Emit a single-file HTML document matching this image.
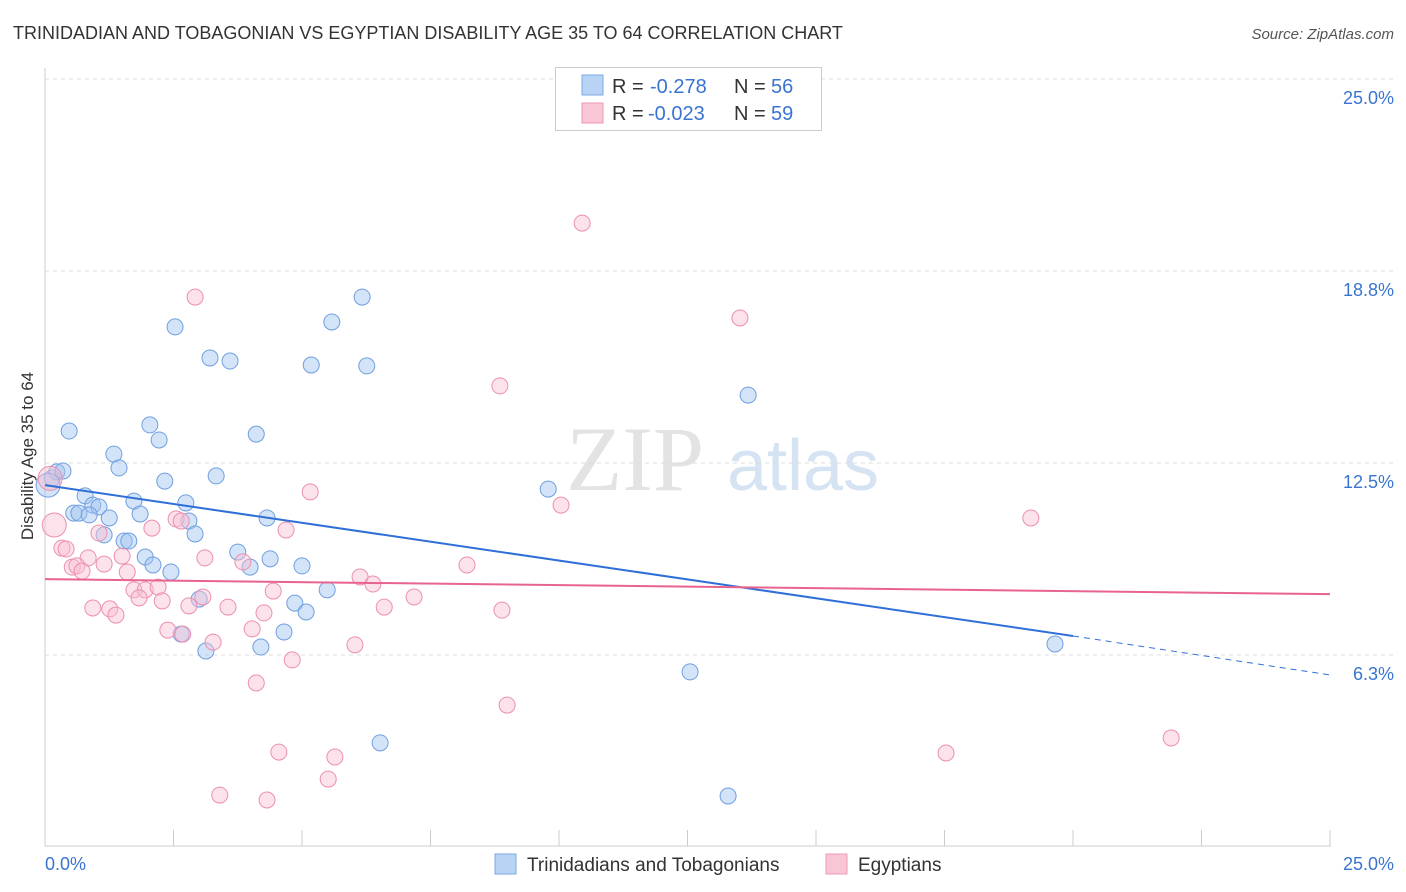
<!DOCTYPE html>
<html><head><meta charset="utf-8"><style>
body{margin:0;background:#fff;font-family:"Liberation Sans",sans-serif;}
svg{display:block}
</style></head><body>
<svg id="chart" width="1406" height="892" xmlns="http://www.w3.org/2000/svg">
<text x="13" y="39" font-size="18" fill="#333">TRINIDADIAN AND TOBAGONIAN VS EGYPTIAN DISABILITY AGE 35 TO 64 CORRELATION CHART</text>
<text x="1394" y="39" font-size="15" fill="#555" text-anchor="end" font-style="italic">Source: ZipAtlas.com</text>
<g>
<text x="635" y="490" font-size="92" fill="#e3e3e3" font-family="Liberation Serif,serif" text-anchor="middle">ZIP</text>
<text x="803" y="490" font-size="72" fill="#d5e3f3" text-anchor="middle">atlas</text>
</g>
<g id="grid"></g>
<line x1="45" y1="68" x2="45" y2="846" stroke="#ccc"/>
<line x1="45" y1="846" x2="1331" y2="846" stroke="#ccc"/>
<g id="xticks"></g>
<text transform="translate(33,456) rotate(-90)" font-size="17" fill="#333" text-anchor="middle">Disability Age 35 to 64</text>
<text x="45" y="870" font-size="18" fill="#3a74d1">0.0%</text>
<text x="1394" y="870" font-size="18" fill="#3a74d1" text-anchor="end">25.0%</text>
<g id="points"></g>
<g id="trends"></g>
<g>
<rect x="555.5" y="67.5" width="266" height="63" fill="#fff" stroke="#ccc"/>
<rect x="582" y="75" width="21" height="20" fill="#b9d3f5" stroke="#7aaae6"/>
<rect x="582" y="103" width="21" height="20" fill="#f9c6d6" stroke="#ee9ab5"/>
<text x="612" y="93" font-size="20" fill="#333">R = </text><text x="650" y="93" font-size="20" fill="#3a74d1">-0.278</text>
<text x="734" y="93" font-size="20" fill="#333">N = </text><text x="771" y="93" font-size="20" fill="#3a74d1">56</text>
<text x="612" y="120" font-size="20" fill="#333">R = </text><text x="648" y="120" font-size="20" fill="#3a74d1">-0.023</text>
<text x="734" y="120" font-size="20" fill="#333">N = </text><text x="771" y="120" font-size="20" fill="#3a74d1">59</text>
</g>
<g>
<rect x="495" y="854" width="21" height="20" fill="#b9d3f5" stroke="#7aaae6"/>
<text x="527" y="871" font-size="19" fill="#333">Trinidadians and Tobagonians</text>
<rect x="826" y="854" width="21" height="20" fill="#f9c6d6" stroke="#ee9ab5"/>
<text x="858" y="871" font-size="19" fill="#333">Egyptians</text>
</g>
</svg>
<script>
const yTicks=[25.0,18.75,12.5,6.25];
const yTickLabels=["25.0%","18.8%","12.5%","6.3%"];
const xTicks=[2.5,5,7.5,10,12.5,15,17.5,20,22.5,25];
const blueX=[0.14,0.23,0.35,0.06,0.47,1.34,1.44,2.04,2.22,2.53,3.21,3.60,4.11,5.18,5.58,6.17,6.26,13.68,9.79,0.78,0.93,1.05,0.56,0.66,0.86,1.25,1.73,1.85,2.33,2.74,2.80,3.33,4.32,1.15,1.54,1.63,1.95,2.10,2.45,2.92,3.75,3.99,4.38,5.00,5.49,3.00,4.86,5.08,4.65,2.65,3.13,4.20,12.55,19.65,6.52,13.29];
const blueY=[12.01,12.21,12.24,11.78,13.54,12.79,12.34,13.74,13.25,16.93,15.92,15.82,13.44,15.69,17.09,17.90,15.66,14.71,11.65,11.43,11.13,11.07,10.87,10.87,10.81,10.71,11.26,10.84,11.91,11.20,10.61,12.08,10.71,10.16,9.96,9.96,9.44,9.18,8.95,10.19,9.60,9.11,9.38,9.15,8.37,8.07,7.94,7.65,7.00,6.93,6.38,6.51,5.70,6.61,3.39,1.66];
const pinkX=[10.45,2.92,13.52,8.85,5.16,10.04,19.18,0.18,2.08,2.55,2.65,4.69,0.33,0.41,1.05,0.84,0.53,0.62,0.72,1.15,1.60,1.50,3.11,3.85,6.13,6.38,8.21,1.73,1.95,2.20,1.83,2.28,2.80,3.07,3.56,4.26,4.44,6.60,7.18,8.89,0.93,1.26,1.38,2.39,2.68,3.27,4.03,6.03,4.81,4.11,8.99,4.55,5.64,17.53,21.91,3.40,4.32,5.51,0.10];
const pinkY=[20.31,17.90,17.22,15.01,11.56,11.13,10.71,10.48,10.38,10.68,10.61,10.32,9.73,9.70,10.22,9.41,9.11,9.15,8.98,9.21,8.95,9.47,9.41,9.28,8.79,8.56,9.18,8.37,8.37,8.46,8.11,8.01,7.85,8.14,7.81,7.62,8.33,7.81,8.14,7.71,7.78,7.75,7.55,7.06,6.93,6.67,7.10,6.58,6.09,5.34,4.62,3.09,2.93,3.06,3.55,1.69,1.53,2.21,12.0];
const blueTrend=[11.78,6.87,5.60]; // at x=0, 20, 25
const pinkTrend=[8.72,8.23]; // at x=0, 25
const NS="http://www.w3.org/2000/svg";
const sx=v=>45+v*51.4;
const sy=v=>847-v*30.72;
function mk(t,a,p){const e=document.createElementNS(NS,t);for(const k in a)e.setAttribute(k,a[k]);p.appendChild(e);return e;}
const grid=document.getElementById('grid');
yTicks.forEach((v,i)=>{
 const l=mk('line',{x1:45,x2:1394,y1:sy(v),y2:sy(v),stroke:'#ddd','stroke-dasharray':'4,4'},grid);
 
 
 const t=mk('text',{x:1394,y:sy(v)+25,'font-size':18,fill:'#3a74d1','text-anchor':'end'},grid);
 t.textContent=yTickLabels[i];
 
 
});
const xt=document.getElementById('xticks');
xTicks.forEach(v=>{
 const l=mk('line',{x1:sx(v),x2:sx(v),y1:830,y2:846,stroke:'#ccc'},xt);
 
 
});
const pts=document.getElementById('points');
blueX.forEach((x,i)=>{
 const c=mk('circle',{cx:sx(x),cy:sy(blueY[i]),r:i==3?12:8,fill:'rgba(160,196,240,0.45)',stroke:'#6f9fe0','stroke-width':1},pts);
 
 
});
pinkX.forEach((x,i)=>{
 const c=mk('circle',{cx:sx(x),cy:sy(pinkY[i]),r:(i==7||i==58)?12:8,fill:'rgba(248,190,210,0.45)',stroke:'#ec8fb0','stroke-width':1},pts);
 
 
});
const tr=document.getElementById('trends');
let b=mk('line',{x1:sx(0),y1:sy(blueTrend[0]),x2:sx(20),y2:sy(blueTrend[1]),stroke:'#2f6fd8','stroke-width':2},tr);


let bd=mk('line',{x1:sx(20),y1:sy(blueTrend[1]),x2:sx(25),y2:sy(blueTrend[2]),stroke:'#2f6fd8','stroke-width':1,'stroke-dasharray':'6,5'},tr);


let p=mk('line',{x1:sx(0),y1:sy(pinkTrend[0]),x2:sx(25),y2:sy(pinkTrend[1]),stroke:'#e8648e','stroke-width':2},tr);


</script>
</body></html>
